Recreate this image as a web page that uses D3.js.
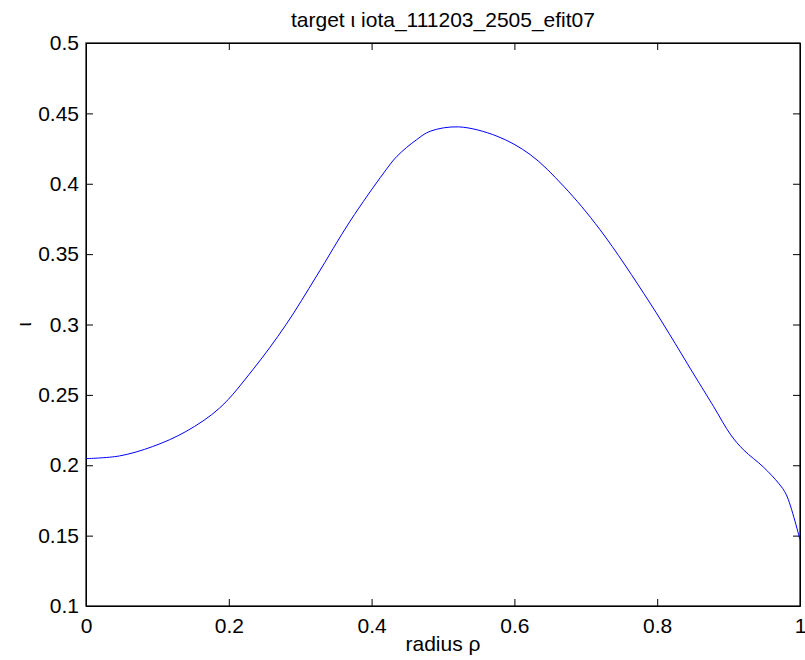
<!DOCTYPE html>
<html>
<head>
<meta charset="utf-8">
<script src="https://cdn.jsdelivr.net/npm/d3@7"></script>
<style>
  body { margin: 0; background: #fff; }
  text { font-family: "Liberation Sans", Arial, sans-serif; fill: #000; }
</style>
</head>
<body>
<div id="chart"></div>
<script>
// Values
var rho  = [0, 0.0467, 0.0934, 0.14, 0.187, 0.2335, 0.28, 0.323, 0.37, 0.417, 0.4355, 0.463, 0.482, 0.522,
            0.5756, 0.6222, 0.669, 0.72, 0.79, 0.856, 0.879, 0.903, 0.921, 0.949, 0.97, 0.981, 1.0];
var iota = [0.2047, 0.2066, 0.2133, 0.2240, 0.2406, 0.2678, 0.2998, 0.3345, 0.3735, 0.4077, 0.4195, 0.4313, 0.4373, 0.4404,
            0.4338, 0.4207, 0.3982, 0.3673, 0.3152, 0.2607, 0.2417, 0.2216, 0.2109, 0.1986, 0.1872, 0.1789, 0.147];

var xTicks = [0, 0.2, 0.4, 0.6, 0.8, 1];
var yTicks = [0.1, 0.15, 0.2, 0.25, 0.3, 0.35, 0.4, 0.45, 0.5];

var titleText = 'target  \u03B9 iota_111203_2505_efit07';
var xLabel = 'radius \u03C1';
var yLabel = '\u03B9';

// Plot box (don't name these top/left, window.top is read-only)
var marginLeft = 86, marginTop = 43,
    width = 714, height = 563;

var fontSize = 21;

var svg = d3.select('#chart')
            .append('svg')
            .attr('width', 805)
            .attr('height', 660);

var g = svg.append('g')
           .attr('transform', 'translate(' + marginLeft + ',' + marginTop + ')');

var x = d3.scaleLinear().domain([0, 1]).range([0, width]);
var y = d3.scaleLinear().domain([0.1, 0.5]).range([height, 0]);

var fmt = d3.format('~g');

// Axes with inward ticks on all four sides (matlab box style)
var tickLen = 7;
g.append('g')
  .attr('transform', 'translate(0,' + height + ')')
  .call(d3.axisBottom(x).tickValues(xTicks).tickFormat(fmt)
          .tickSizeInner(-tickLen).tickSizeOuter(0).tickPadding(12));

g.append('g')
  .call(d3.axisTop(x).tickValues(xTicks).tickFormat('')
          .tickSizeInner(-tickLen).tickSizeOuter(0));

g.append('g')
  .call(d3.axisLeft(y).tickValues(yTicks).tickFormat(fmt)
          .tickSizeInner(-tickLen).tickSizeOuter(0).tickPadding(7));

g.append('g')
  .attr('transform', 'translate(' + width + ',0)')
  .call(d3.axisRight(y).tickValues(yTicks).tickFormat('')
          .tickSizeInner(-tickLen).tickSizeOuter(0));

g.selectAll('.domain').attr('stroke', '#000').attr('stroke-width', 1);
g.selectAll('.tick line').attr('stroke', '#000');
g.selectAll('.tick text').attr('font-size', fontSize).attr('font-family', '"Liberation Sans", Arial, sans-serif');

// Frame
g.append('rect')
  .attr('x', 0).attr('y', 0)
  .attr('width', width).attr('height', height)
  .attr('fill', 'none')
  .attr('stroke', '#000')
  .attr('stroke-width', 1.2);

// Curve
var line = d3.line()
             .curve(d3.curveCatmullRom.alpha(0.5))
             .x(function(d, i) { return x(rho[i]); })
             .y(function(d) { return y(d); });

g.append('path')
  .attr('d', line(iota))
  .attr('fill', 'none')
  .attr('stroke', '#0000ff')
  .attr('stroke-width', 1);

// Title and labels
svg.append('text')
   .attr('x', marginLeft + width / 2)
   .attr('y', 27)
   .attr('text-anchor', 'middle')
   .attr('font-size', fontSize)
   .text(titleText);

svg.append('text')
   .attr('x', marginLeft + width / 2)
   .attr('y', 651)
   .attr('text-anchor', 'middle')
   .attr('font-size', fontSize)
   .text(xLabel);

svg.append('text')
   .attr('transform', 'translate(31,' + (marginTop + height / 2) + ') rotate(-90)')
   .attr('text-anchor', 'middle')
   .attr('font-size', fontSize)
   .text(yLabel);
</script>
</body>
</html>
